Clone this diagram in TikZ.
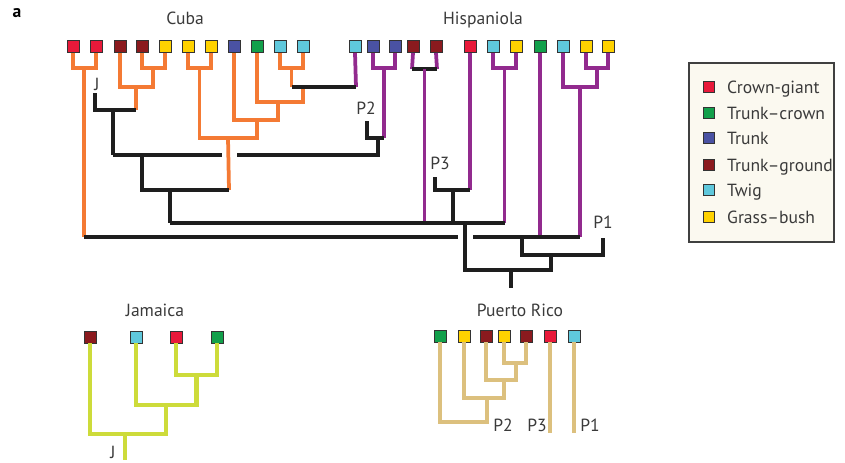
\documentclass[tikz,border=0pt]{standalone}
\usepackage{fontspec}
\setmainfont{PT Sans}
\usetikzlibrary{shadows}
\definecolor{crowngiant}{HTML}{E8193A}
\definecolor{trunkcrown}{HTML}{12A04B}
\definecolor{trunk}{HTML}{4A52A3}
\definecolor{trunkground}{HTML}{8B1A1E}
\definecolor{twig}{HTML}{5FC8DC}
\definecolor{grassbush}{HTML}{FFD200}
\definecolor{cubaline}{HTML}{F47A34}
\definecolor{hispline}{HTML}{922A8E}
\definecolor{jamline}{HTML}{CDDB3A}
\definecolor{prline}{HTML}{DCC07E}
\definecolor{inkline}{HTML}{1E1E1E}
\definecolor{labelgray}{HTML}{3A3A3A}
\definecolor{legendfill}{HTML}{FBF9F0}

\begin{document}
\begin{tikzpicture}[x=0.03cm, y=-0.03cm, font=\fontsize{15}{18}\selectfont, text=labelgray,
    tile/.style={draw=black!80, line width=0.8pt, minimum size=0.36cm, inner sep=0pt,
        drop shadow={shadow xshift=0.7pt, shadow yshift=-0.7pt, opacity=0.3}},
    keytile/.style={tile, minimum size=0.32cm},
    branch/.style={line width=3.2pt},
    cu/.style={branch, cubaline},
    hi/.style={branch, hispline},
    bk/.style={branch, inkline},
    ja/.style={line width=3.6pt, jamline},
    pr/.style={line width=3.6pt, prline}]
    \useasboundingbox (0,0) rectangle (845,462);

    \node[font=\fontsize{15}{18}\selectfont\bfseries, text=black] (panel) at (17,13) {a};
    \node (cuba) at (185,18) {Cuba};
    \node (hisp) at (483,20) {Hispaniola};
    \node (jam) at (155,310) {Jamaica};
    \node (prico) at (520,310) {Puerto Rico};

    % tips
    \foreach \i/\x/\c in {1/73/crowngiant, 2/96/crowngiant, 3/120/trunkground, 4/142/trunkground,
        5/165/grassbush, 6/188/grassbush, 7/211/grassbush, 8/234/trunk, 9/257/trunkcrown,
        10/280/twig, 11/303/twig}
        \node[tile, fill=\c] (cu\i) at (\x,46.5) {};
    \foreach \i/\x/\c in {1/355/twig, 2/373/trunk, 3/395/trunk, 4/413/trunkground, 5/436/trunkground,
        6/470/crowngiant, 7/493/twig, 8/516/grassbush, 9/540/trunkcrown, 10/563/twig,
        11/586/grassbush, 12/608/grassbush}
        \node[tile, fill=\c] (hi\i) at (\x,46.5) {};
    \foreach \i/\x/\c in {1/90/trunkground, 2/136/twig, 3/176/crowngiant, 4/217/trunkcrown}
        \node[tile, fill=\c] (ja\i) at (\x,337) {};
    \foreach \i/\x/\c in {1/440/trunkcrown, 2/464/grassbush, 3/486/trunkground, 4/504/grassbush,
        5/526/trunkground, 6/550/crowngiant, 7/574/twig}
        \node[tile, fill=\c] (pr\i) at (\x,336) {};

    % clade labels
    \node (lJc) at (97,84) {J};
    \node (lP2) at (366,108) {P2};
    \node (lP3) at (440,163) {P3};
    \node (lP1) at (603,222) {P1};
    \node (lJa) at (113,452) {J};
    \node (lP2b) at (503,425) {P2};
    \node (lP3b) at (537,425) {P3};
    \node (lP1b) at (590,425) {P1};

    % Cuba
    \coordinate (cA) at (84,68);
    \coordinate (cB) at (153,68);
    \coordinate (cC) at (136,87);
    \coordinate (cD) at (136,110);
    \coordinate (cJ) at (95,93);
    \coordinate (cE) at (113,110);
    \coordinate (cF) at (113,155);
    \coordinate (cT) at (222,155);
    \coordinate (cU) at (237,155);
    \coordinate (cV) at (142,155);
    \coordinate (cG) at (199.5,68);
    \coordinate (cQ) at (257,138);
    \coordinate (cP) at (257,120);
    \coordinate (cO) at (278,120);
    \coordinate (cN) at (278,102);
    \coordinate (cM) at (303,102);
    \coordinate (cL) at (303,87);
    \coordinate (cI) at (291.5,68);
    \coordinate (cK) at (291.5,87);
    \coordinate (cR) at (228,138);
    \coordinate (cS) at (229,190);
    \coordinate (cX) at (170,190);
    \coordinate (cY) at (170,223);
    \coordinate (cZ) at (84,237);

    \draw[cu] (cu1.south) |- (cA) -| (cu2.south);
    \draw[cu] (cA) -- (cZ);
    \draw[cu] (cu4.south) |- (cB) -| (cu5.south);
    \draw[cu] (cu3.south) |- (cC) -| (cB);
    \draw[cu] (cC) -- (cD);
    \draw[bk] (cJ) |- (cD);
    \draw[bk] (cE) -- (cF);
    \draw[cu] (cu6.south) |- (cG) -| (cu7.south);
    \draw[cu] (cu10.south) |- (cI) -| (cu11.south);
    \draw[cu] (cI) -- (cK);
    \draw[cu] (cu9.south) |- (cM) -- (cL);
    \draw[cu] (cu8.south) |- (cO) -- (cN);
    \draw[cu] (cG) |- (cQ) -- (cP);
    \draw[cu] (cR) -- (cS);
    \draw[bk] (cF) -- (cT);
    \draw[bk] (cV) |- (cS);
    \draw[bk] (cX) -- (cY);

    % Hispaniola
    \coordinate (hA) at (356,87);
    \coordinate (hB) at (384,68);
    \coordinate (hC) at (384,138);
    \coordinate (pA) at (367,121);
    \coordinate (pB) at (378,138);
    \coordinate (hE) at (412,69);
    \coordinate (hF) at (437,69);
    \coordinate (hD) at (424.5,69);
    \coordinate (hG) at (424.5,223);
    \coordinate (hH) at (470,190);
    \coordinate (pD) at (435,177);
    \coordinate (pE) at (453,190);
    \coordinate (pF) at (453,223);
    \coordinate (hI) at (504.5,68);
    \coordinate (hK) at (504.5,223);
    \coordinate (hL) at (540,237);
    \coordinate (hN) at (597,68);
    \coordinate (hO) at (597,87);
    \coordinate (hP) at (580,87);
    \coordinate (hM) at (580,237);

    \draw[hi] (hi1.south) -- (hA);
    \draw[bk] (cK) -- (hA);
    \draw[hi] (hi2.south) |- (hB) -| (hi3.south);
    \draw[hi] (hB) -- (hC);
    \draw[bk] (pA) |- (hC);
    \draw[bk] (cU) -| (pB);
    \draw[hi] (hi4.south) -- (hE);
    \draw[hi] (hi5.south) -- (hF);
    \draw[bk] (hE) -- (hF);
    \draw[hi] (hD) -- (hG);
    \draw[hi] (hi6.south) -- (hH);
    \draw[bk] (pD) |- (hH);
    \draw[bk] (pE) -- (pF);
    \draw[hi] (hi7.south) |- (hI) -| (hi8.south);
    \draw[hi] (hI) -- (hK);
    \draw[bk] (cY) -- (hK);
    \draw[hi] (hi9.south) -- (hL);
    \draw[hi] (hi11.south) |- (hN) -| (hi12.south);
    \draw[hi] (hi10.south) |- (hO) -- (hN);
    \draw[hi] (hP) -- (hM);

    % root
    \coordinate (rA) at (465,223);
    \coordinate (rC) at (551,270);
    \coordinate (rD) at (551,255);
    \coordinate (rG) at (522,237);
    \coordinate (rF) at (603,255);
    \coordinate (rH) at (603,238);
    \coordinate (rI) at (511,270);
    \coordinate (rJ) at (511,288);
    \coordinate (rK) at (458,237);
    \coordinate (rL) at (473,237);

    \draw[bk] (cZ) -- (rK);
    \draw[bk] (rL) -- (hM);
    \draw[bk] (rA) |- (rC) -- (rD);
    \draw[bk] (rG) |- (rF) -- (rH);
    \draw[bk] (rI) -- (rJ);

    % Jamaica
    \coordinate (jA) at (196.5,375);
    \coordinate (jB) at (196.5,405);
    \coordinate (jC) at (166,405);
    \coordinate (jD) at (166,434);
    \coordinate (jE) at (125,434);
    \coordinate (jF) at (125,460);

    \draw[ja] (ja3.south) |- (jA) -| (ja4.south);
    \draw[ja] (ja2.south) |- (jB) -- (jA);
    \draw[ja] (ja1.south) |- (jD) -- (jC);
    \draw[ja] (jE) -- (jF);

    % Puerto Rico
    \coordinate (qA) at (516,363);
    \coordinate (qB) at (516,380);
    \coordinate (qC) at (504,380);
    \coordinate (qD) at (504,398);
    \coordinate (qE) at (487,398);
    \coordinate (qF) at (487,422);
    \coordinate (qG) at (550,433);
    \coordinate (qH) at (574,433);

    \draw[pr] (pr4.south) |- (qA) -| (pr5.south);
    \draw[pr] (pr3.south) |- (qB) -- (qA);
    \draw[pr] (pr2.south) |- (qD) -- (qC);
    \draw[pr] (pr1.south) |- (qF) -- (qE);
    \draw[pr] (pr6.south) -- (qG);
    \draw[pr] (pr7.south) -- (qH);

    % legend
    \node[draw=black!75, line width=1pt, fill=legendfill, minimum width=4.35cm, minimum height=5.37cm,
        drop shadow={shadow xshift=1.2pt, shadow yshift=-1.2pt, opacity=0.35}] (legend) at (761.5,152.5) {};
    \foreach \y/\c/\t in {87/crowngiant/Crown-giant, 113/trunkcrown/Trunk–crown, 138/trunk/Trunk,
        165/trunkground/Trunk–ground, 190/twig/Twig, 217/grassbush/Grass–bush} {
        \node[keytile, fill=\c] (key\c) at (709,\y) {};
        \node[anchor=base west, inner sep=0pt] (keytxt\c) at (727,\y+6) {\t};
    }
\end{tikzpicture}
\end{document}
